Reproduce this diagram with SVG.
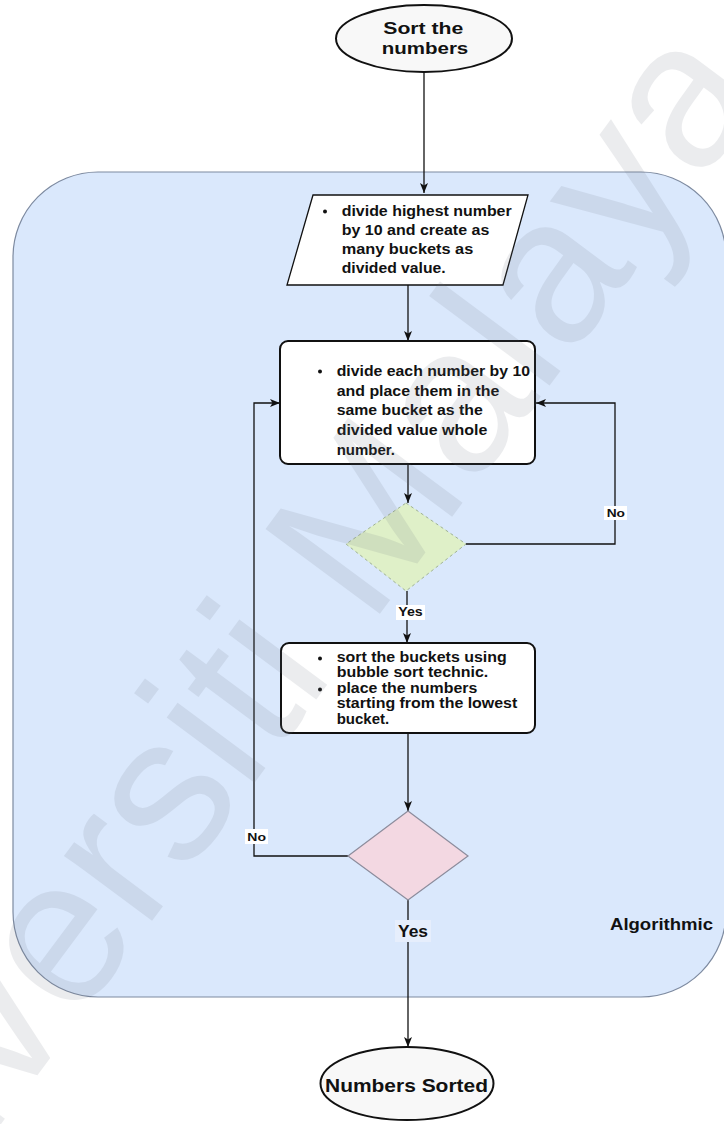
<svg xmlns="http://www.w3.org/2000/svg" width="724" height="1124" viewBox="0 0 724 1124">
  <defs>
    <marker id="arrow" viewBox="0 0 10 8" refX="10" refY="4" markerWidth="10" markerHeight="8" markerUnits="userSpaceOnUse" orient="auto">
      <path d="M0,0 L10,4 L0,8 L2.5,4 z" fill="#111"/>
    </marker>
    <style>
      .txt { font-family: "Liberation Sans", Arial, Helvetica, sans-serif; font-weight: bold; fill: #111; }
      .body { font-size: 15px; }
      .term { font-size: 16px; }
      .lbl { font-size: 11.5px; }
      .edge { fill: none; stroke: #111; stroke-width: 1.3; }
      .proc { fill: #ffffff; stroke: #111; stroke-width: 2; }
      .bullet { fill: #111; }
      .mark { font-family: "Liberation Sans", Arial, sans-serif; font-size: 207px; fill: #6b7280; opacity: 0.13; }
    </style>
  </defs>

  <rect width="724" height="1124" fill="#ffffff"/>

  <!-- algorithm container -->
  <g id="container">
    <rect x="13" y="172" width="713" height="825" rx="85" ry="85" fill="#dae8fc" stroke="#7d8aa0" stroke-width="1.2"/>
    <text class="txt term" x="610" y="930" textLength="103" lengthAdjust="spacingAndGlyphs">Algorithmic</text>
  </g>

  <!-- connectors -->
  <g id="connectors">
    <path class="edge" d="M424,72 L424,193" marker-end="url(#arrow)"/>
    <path class="edge" d="M408,285 L408,341" marker-end="url(#arrow)"/>
    <path class="edge" d="M408,464 L408,503" marker-end="url(#arrow)"/>
    <path class="edge" d="M466,544 L615,544 L615,403 L536,403" marker-end="url(#arrow)"/>
    <path class="edge" d="M407,591 L407,643" marker-end="url(#arrow)"/>
    <path class="edge" d="M408,733 L408,811" marker-end="url(#arrow)"/>
    <path class="edge" d="M348,856 L254,856 L254,403 L280,403" marker-end="url(#arrow)"/>
    <path class="edge" d="M408,900 L408,1047" marker-end="url(#arrow)"/>

    <rect x="604" y="506" width="23" height="14" fill="#ffffff"/>
    <text class="txt lbl" x="606.7" y="517.3" textLength="18.3" lengthAdjust="spacingAndGlyphs">No</text>
    <rect x="396" y="605" width="29" height="15" fill="#ffffff"/>
    <text class="txt" font-size="12" x="398.3" y="616" textLength="24.4" lengthAdjust="spacingAndGlyphs">Yes</text>
    <rect x="245" y="829" width="23" height="15" fill="#ffffff"/>
    <text class="txt lbl" x="247.3" y="840.7" textLength="18.7" lengthAdjust="spacingAndGlyphs">No</text>
    <rect x="395" y="920" width="36" height="22" fill="#e6eefc"/>
    <text class="txt term" x="398" y="936.5" textLength="30" lengthAdjust="spacingAndGlyphs">Yes</text>
  </g>

  <!-- start terminal -->
  <g id="start">
    <ellipse cx="424" cy="38.5" rx="88" ry="33.5" fill="#f8f8f8" stroke="#111" stroke-width="2"/>
    <text class="txt term" x="383.3" y="33.5" textLength="80" lengthAdjust="spacingAndGlyphs">Sort the</text>
    <text class="txt term" x="381.7" y="54" textLength="86.6" lengthAdjust="spacingAndGlyphs">numbers</text>
  </g>

  <!-- input: bucket creation -->
  <g id="create-buckets">
    <polygon points="313,195 528,195 503,285 287,285" fill="#ffffff" stroke="#111" stroke-width="1.3"/>
    <circle class="bullet" cx="325" cy="211.5" r="2"/>
    <text class="txt body" x="341.7" y="215.7" textLength="170" lengthAdjust="spacingAndGlyphs">divide highest number</text>
    <text class="txt body" x="341.7" y="234.8" textLength="147.6" lengthAdjust="spacingAndGlyphs">by 10 and create as</text>
    <text class="txt body" x="341.7" y="254" textLength="131.6" lengthAdjust="spacingAndGlyphs">many buckets  as</text>
    <text class="txt body" x="341.7" y="273.3" textLength="104" lengthAdjust="spacingAndGlyphs">divided value.</text>
  </g>

  <!-- process: distribute into buckets -->
  <g id="distribute">
    <rect class="proc" x="280" y="341" width="255" height="123" rx="8" ry="8"/>
    <circle class="bullet" cx="320" cy="371.5" r="2"/>
    <text class="txt body" x="336.7" y="376" textLength="193.3" lengthAdjust="spacingAndGlyphs">divide each number by 10</text>
    <text class="txt body" x="336.7" y="395.5" textLength="162.6" lengthAdjust="spacingAndGlyphs">and place them in the</text>
    <text class="txt body" x="336.7" y="415.2" textLength="146" lengthAdjust="spacingAndGlyphs">same bucket as the</text>
    <text class="txt body" x="336.7" y="435" textLength="150.6" lengthAdjust="spacingAndGlyphs">divided value whole</text>
    <text class="txt body" x="336.7" y="454.8">number.</text>
  </g>

  <!-- decision: all numbers placed? -->
  <g id="check-placed">
    <polygon points="406,503 466,544 406,591 346,544" fill="#dff0c8" stroke="#9fb294" stroke-width="1" stroke-dasharray="3,3"/>
  </g>

  <!-- process: sort and collect -->
  <g id="sort-buckets">
    <rect class="proc" x="281" y="643" width="254" height="90" rx="8" ry="8"/>
    <circle class="bullet" cx="320" cy="658.5" r="2"/>
    <text class="txt body" x="336.7" y="661.7" textLength="170" lengthAdjust="spacingAndGlyphs">sort the buckets using</text>
    <text class="txt body" x="336.7" y="677.2" textLength="151.6" lengthAdjust="spacingAndGlyphs">bubble sort technic.</text>
    <circle class="bullet" cx="320" cy="689.5" r="2"/>
    <text class="txt body" x="336.7" y="692.7" textLength="140.6" lengthAdjust="spacingAndGlyphs">place the numbers</text>
    <text class="txt body" x="336.7" y="708.3" textLength="180.6" lengthAdjust="spacingAndGlyphs">starting from the lowest</text>
    <text class="txt body" x="336.7" y="724">bucket.</text>
  </g>

  <!-- decision: sorted? -->
  <g id="check-sorted">
    <polygon points="408,811 468,856 408,900 348,856" fill="#f3d8e2" stroke="#8c8c9c" stroke-width="1.2"/>
  </g>

  <!-- end terminal -->
  <g id="end">
    <ellipse cx="407" cy="1083.5" rx="86.5" ry="36.5" fill="#f8f8f8" stroke="#111" stroke-width="2"/>
    <text class="txt" font-size="18" x="325" y="1091.5" textLength="163" lengthAdjust="spacingAndGlyphs">Numbers Sorted</text>
  </g>

  <!-- watermark -->
  <text class="mark" transform="translate(-172,1357) rotate(-53.4)">Universiti Malaya</text>
</svg>
